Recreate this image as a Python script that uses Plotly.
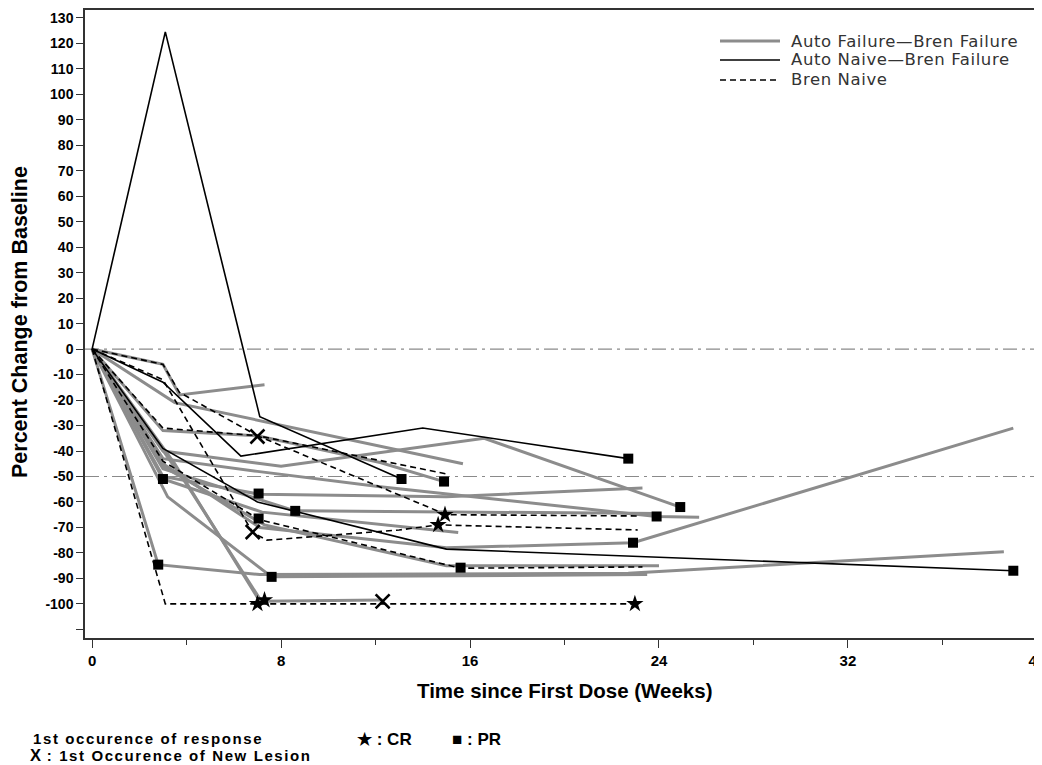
import plotly.graph_objects as go

# ---------------- data ----------------
# Auto Failure—Bren Failure (gray lines): weeks and percent change per patient
gray_weeks = [
    [0, 3, 3.7, 7.3],
    [0, 3.5, 15.7],
    [0, 3, 7.1, 15, 23.3],
    [0, 3, 8, 16.6, 24.9],
    [0, 3, 7, 12.2, 14.9],
    [0, 3, 7, 12.2, 23.9, 25.7],
    [0, 3, 8.6, 24],
    [0, 3, 7.1, 15, 22.9, 39],
    [0, 2.8, 7.1, 22.7, 38.6],
    [0, 3.2, 7.6, 23.5],
    [0, 3, 7.3, 15, 24],
    [0, 3.5, 7.1, 12.3],
    [0, 4, 7.2],
    [0, 3, 7.2, 15.5],
]
gray_pct = [
    [0, -6, -18, -14],
    [0, -21, -45],
    [0, -50, -57, -58, -54.5],
    [0, -40, -46, -35, -62],
    [0, -32, -34, -44.5, -52],
    [0, -43, -48, -54, -65.7, -66],
    [0, -47, -63.5, -64.5],
    [0, -45, -70, -78, -76, -31],
    [0, -84.6, -88.5, -88, -79.5],
    [0, -58, -89.4, -88.5],
    [0, -46, -69, -85, -85],
    [0, -45, -99, -98.5],
    [0, -53, -99.5],
    [0, -51, -64, -72],
]

# Auto Naive—Bren Failure (black solid lines)
black_weeks = [
    [0, 3.1, 7.1, 13.1],
    [0, 3, 7, 15, 39],
    [0, 3, 6.3, 14, 22.7],
]
black_pct = [
    [0, 124.5, -26.5, -51],
    [0, -39, -60, -78.5, -87],
    [0, -13, -42, -31, -43],
]

# Bren Naive (black dashed lines)
dash_weeks = [
    [0, 3.1, 23],
    [0, 3, 7, 15, 23.1],
    [0, 3, 3.7, 7, 15],
    [0, 3, 6.8, 7.4, 13, 14.65, 23.1],
    [0, 3, 7.1, 15.6, 23.3],
]
dash_pct = [
    [0, -100, -100],
    [0, -31, -34, -65, -65.5],
    [0, -6, -17, -34, -49],
    [0, -12, -72, -75, -71, -69, -71],
    [0, -44, -67, -86, -85.5],
]

# 1st occurrence of response: PR (square), CR (star); new lesion (X)
pr_weeks = [3.0, 2.8, 7.05, 7.05, 8.6, 7.6, 13.1, 14.9, 15.6, 22.7, 24.9, 23.9, 22.9, 39.0]
pr_pct = [-51, -84.6, -56.7, -66.5, -63.5, -89.4, -51, -52, -85.8, -43, -62, -65.7, -76, -87]
cr_weeks = [7.0, 7.3, 14.94, 14.65, 22.98]
cr_pct = [-100, -98.5, -65, -69, -100]
nl_weeks = [7.0, 6.8, 12.3]
nl_pct = [-34.3, -71.8, -99]

ref_levels = [0, -50]
x_ticks = [0, 8, 16, 24, 32, 40]
y_ticks = list(range(-110, 131, 10))
y_ticktext = ["" if v == -110 else str(v) for v in y_ticks]

group_names = ["Auto Failure\u2014Bren Failure", "Auto Naive\u2014Bren Failure", "Bren Naive"]

# ---------------- figure ----------------
GRAY = "#8c8c8c"
BOLDFONT = "Liberation Sans, Arial"
PAGE_OFF = 8                      # the page body margin shifts the figure by 8px
W, H = 1034, 757
ML, MR, MT, MB = 77, 2, 2, 127
PW, PH = W - ML - MR, H - MT - MB


def px(xp):
    """page pixel x -> paper coordinate"""
    return (xp - PAGE_OFF - ML) / PW


def py(yp):
    """page pixel y -> paper coordinate"""
    return (H - MB - (yp - PAGE_OFF)) / PH


group_styles = [
    dict(color=GRAY, width=3),
    dict(color="#000000", width=1.6),
    dict(color="#000000", width=1.6, dash="6px,4px"),
]

fig = go.Figure()

for xs, ys in zip(gray_weeks, gray_pct):
    fig.add_trace(go.Scatter(x=xs, y=ys, mode="lines", line=group_styles[0],
                             name=group_names[0], showlegend=False, hoverinfo="skip"))
for xs, ys in zip(black_weeks, black_pct):
    fig.add_trace(go.Scatter(x=xs, y=ys, mode="lines", line=group_styles[1],
                             name=group_names[1], showlegend=False, hoverinfo="skip"))
for xs, ys in zip(dash_weeks, dash_pct):
    fig.add_trace(go.Scatter(x=xs, y=ys, mode="lines", line=group_styles[2],
                             name=group_names[2], showlegend=False, hoverinfo="skip"))

fig.add_trace(go.Scatter(
    x=pr_weeks, y=pr_pct, mode="markers", showlegend=False, name="PR",
    marker=dict(symbol="square", size=10, color="#000000"), hoverinfo="skip"))
fig.add_trace(go.Scatter(
    x=cr_weeks, y=cr_pct, mode="markers", showlegend=False, name="CR",
    marker=dict(symbol="star", size=13, color="#000000"), hoverinfo="skip"))
fig.add_trace(go.Scatter(
    x=nl_weeks, y=nl_pct, mode="markers", showlegend=False, name="New lesion",
    marker=dict(symbol="x-thin", size=14, color="#000000",
                line=dict(color="#000000", width=2.6)), hoverinfo="skip"))

for lvl in ref_levels:
    fig.add_hline(y=lvl, line=dict(color="#8a8a8a", width=1.2, dash="14px,5px,3px,5px"),
                  layer="below")

fig.update_layout(
    width=W, height=H,
    margin=dict(l=ML, r=MR, t=MT, b=MB, autoexpand=False),
    paper_bgcolor="white", plot_bgcolor="white",
    font=dict(family=BOLDFONT, color="#000000"),
    showlegend=False,
    xaxis=dict(
        range=[-0.3, 40.13], tickvals=x_ticks, ticks="outside", ticklen=8,
        tickwidth=1.3, tickcolor="#333333", automargin=False, ticklabeloverflow="allow",
        minor=dict(dtick=4, tick0=0, ticks="outside", ticklen=5, tickcolor="#333333", tickwidth=1),
        showline=True, linecolor="#333333", linewidth=1.5, mirror=True,
        showgrid=False, zeroline=False,
        tickfont=dict(family=BOLDFONT, size=15, color="#000000", weight="bold"),
    ),
    yaxis=dict(
        range=[-113.4, 133.1], tickvals=y_ticks, ticktext=y_ticktext,
        ticks="outside", ticklen=7, tickwidth=1.3, tickcolor="#333333",
        automargin=False, ticklabeloverflow="allow",
        showline=True, linecolor="#333333", linewidth=1.5, mirror=True,
        showgrid=False, zeroline=False,
        tickfont=dict(family=BOLDFONT, size=14, color="#000000", weight="bold"),
    ),
)

# legend key (drawn manually to match the reference's compact spacing)
legend_rows_y = [41, 60, 80]
for name, style, yrow in zip(group_names, group_styles, legend_rows_y):
    fig.add_shape(type="line", xref="paper", yref="paper",
                  x0=px(720), x1=px(780), y0=py(yrow), y1=py(yrow), line=style)
    fig.add_annotation(text="<span style='letter-spacing:0.6px'>" + name + "</span>",
                       xref="paper", yref="paper", x=px(789), y=py(yrow),
                       xanchor="left", yanchor="middle", showarrow=False,
                       font=dict(family="DejaVu Sans", size=16.5, color="#333333"))

# axis titles and footnote text
fig.add_annotation(text="<b>Time since First Dose (Weeks)</b>", xref="paper", yref="paper",
                   x=px(564), y=py(690), xanchor="center", yanchor="middle", showarrow=False,
                   font=dict(family=BOLDFONT, size=20.5, color="#000000"))
fig.add_annotation(text="<b>Percent Change from Baseline</b>", xref="paper", yref="paper",
                   x=px(20), y=py(322), xanchor="center", yanchor="middle", showarrow=False,
                   textangle=-90, font=dict(family=BOLDFONT, size=21.5, color="#000000"))
fig.add_annotation(text="<b><span style='letter-spacing:1.6px'>1st occurence of response</span></b>",
                   xref="paper", yref="paper",
                   x=px(31), y=py(738), xanchor="left", yanchor="middle", showarrow=False,
                   font=dict(family=BOLDFONT, size=15, color="#000000"))
fig.add_annotation(text="<b>\u2605 : CR</b>", xref="paper", yref="paper",
                   x=px(355), y=py(739), xanchor="left", yanchor="middle", showarrow=False,
                   font=dict(family=BOLDFONT, size=17, color="#000000"))
fig.add_annotation(text="<b>\u25A0 : PR</b>", xref="paper", yref="paper",
                   x=px(450), y=py(739), xanchor="left", yanchor="middle", showarrow=False,
                   font=dict(family=BOLDFONT, size=17, color="#000000"))
fig.add_annotation(text="<b><span style='font-size:16.5px'>X</span>"
                        "<span style='letter-spacing:1.6px'> : 1st Occurence of New Lesion</span></b>",
                   xref="paper", yref="paper",
                   x=px(28), y=py(755), xanchor="left", yanchor="middle", showarrow=False,
                   font=dict(family=BOLDFONT, size=15, color="#000000"))

fig.write_html("out.html")
